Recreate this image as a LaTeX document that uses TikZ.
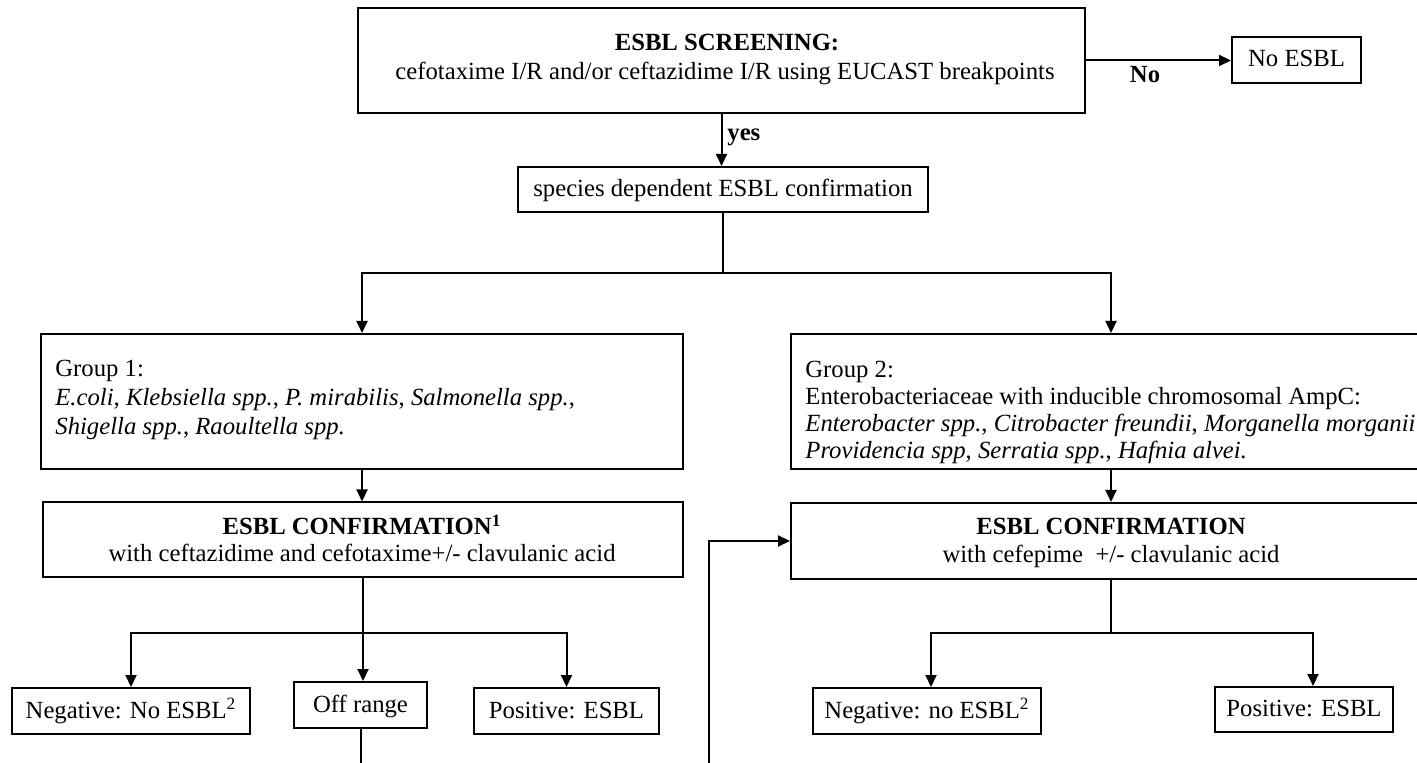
\documentclass[tikz,border=0pt]{standalone}
\usepackage{fontspec}
\setmainfont{Liberation Serif}
\usetikzlibrary{arrows.meta}
\newcommand\dgfs{\fontsize{12.35pt}{14pt}\selectfont}
\begin{document}
\begin{tikzpicture}[x=0.5pt,y=-0.5pt,
  box/.style={draw, line width=1pt, inner sep=0pt},
  lbl/.style={draw, line width=1pt, inner sep=0pt, font=\dgfs, text height=0.7em, text depth=0pt},
  txt/.style={inner sep=0pt, font=\dgfs},
  btxt/.style={inner sep=0pt, font=\dgfs\bfseries},
  conn/.style={line width=1pt},
  arr/.style={conn, -{Triangle[length=6pt,width=5.5pt]}}]
\useasboundingbox (0,0) rectangle (1417,763);
\clip (0,0) rectangle (1417,763);
\fill[white] (0,0) rectangle (1417,763);

% helper coordinates
\coordinate (y273) at (0,273);
\coordinate (y633) at (0,633);
\coordinate (yend) at (0,800);

% top
\node[box, minimum width=363.5pt, minimum height=52.5pt] (top) at (721.5,60.5) {};
\node[btxt, anchor=base] (toptitle) at (727,51) {ESBL SCREENING:};
\node[txt, anchor=base] (topline) at (725,80) {cefotaxime I/R and/or ceftazidime I/R using EUCAST breakpoints};

\node[lbl, minimum width=64.5pt, minimum height=23pt] (noesbl) at (1296.5,60) {No ESBL};
\draw[arr] (top.east) -- (top.east -| noesbl.west);
\node[btxt, anchor=base] (nolbl) at (1145,83) {No};

\node[lbl, minimum width=205pt, minimum height=22.5pt] (species) at (723,189.5) {species dependent ESBL confirmation};
\draw[arr] (top.south) -- (top.south |- species.north);
\node[btxt, anchor=base west] (yeslbl) at (727,141) {yes};

% groups
\node[box, minimum width=321pt, minimum height=67.5pt] (g1) at (362,401.5) {};
\node[txt, anchor=base west] (g1a) at (55,377) {Group 1:};
\node[txt, anchor=base west] (g1b) at (55,406) {\textit{E.coli}, \textit{Klebsiella spp.}, \textit{P. mirabilis}, \textit{Salmonella spp.},};
\node[txt, anchor=base west] (g1c) at (55,435) {\textit{Shigella spp.}, \textit{Raoultella spp.}};

\node[box, minimum width=320pt, minimum height=67.5pt] (g2) at (1111,401.5) {};
\node[txt, anchor=base west] (g2a) at (805,378) {Group 2:};
\node[txt, anchor=base west] (g2b) at (805,405) {Enterobacteriaceae with inducible chromosomal AmpC:};
\node[txt, anchor=base west] (g2c) at (805,432) {\textit{Enterobacter spp.}, \textit{Citrobacter freundii}, \textit{Morganella morganii}};
\node[txt, anchor=base west] (g2d) at (805,459) {\textit{Providencia spp}, \textit{Serratia spp.}, \textit{Hafnia alvei.}};

\coordinate (hb) at (species.south |- y273);
\draw[conn] (species.south) -- (hb);
\draw[arr] (hb) -| (g1.north);
\draw[arr] (hb) -| (g2.north);

% confirmations
\node[box, minimum width=320pt, minimum height=37.5pt] (c1) at (363,540) {};
\node[btxt, anchor=base] (c1a) at (362,535) {ESBL CONFIRMATION\textsuperscript{1}};
\node[txt, anchor=base] (c1b) at (362,561) {with ceftazidime and cefotaxime+/- clavulanic acid};

\node[box, minimum width=320pt, minimum height=38pt] (c2) at (1111,541) {};
\node[btxt, anchor=base] (c2a) at (1111,535) {ESBL CONFIRMATION};
\node[txt, anchor=base] (c2b) at (1111,562) {with cefepime\ \ +/- clavulanic acid};

\draw[arr] (g1.south) -- (g1.south |- c1.north);
\draw[arr] (g2.south) -- (g2.south |- c2.north);

% outcomes group 1
\node[lbl, minimum width=119pt, minimum height=23pt] (neg1) at (131,711) {Negative: No ESBL\textsuperscript{2}};
\node[lbl, minimum width=66.5pt, minimum height=23pt] (off) at (360.5,705) {Off range};
\node[lbl, minimum width=92.5pt, minimum height=23pt] (pos1) at (566.5,711) {Positive: ESBL};

\coordinate (hc1) at (c1.south |- y633);
\draw[conn] (c1.south) -- (hc1);
\draw[arr] (hc1) -| (neg1.north);
\draw[arr] (hc1) -| (pos1.north);
\draw[arr] (hc1) -- (hc1 |- off.north);
\draw[conn] (off.south) -- (off.south |- yend);

% outcomes group 2
\node[lbl, minimum width=114pt, minimum height=23pt] (neg2) at (927,711) {Negative: no ESBL\textsuperscript{2}};
\node[lbl, minimum width=89pt, minimum height=22.5pt] (pos2) at (1304,709.5) {Positive: ESBL};

\coordinate (hc2) at (c2.south |- y633);
\draw[conn] (c2.south) -- (hc2);
\draw[arr] (hc2) -| ([xshift=2pt]neg2.north);
\draw[arr] (hc2) -| ([xshift=4.5pt]pos2.north);

% loop back into second confirmation
\coordinate (loopst) at (709,800);
\draw[arr] (loopst) |- (c2.west);
\end{tikzpicture}
\end{document}
